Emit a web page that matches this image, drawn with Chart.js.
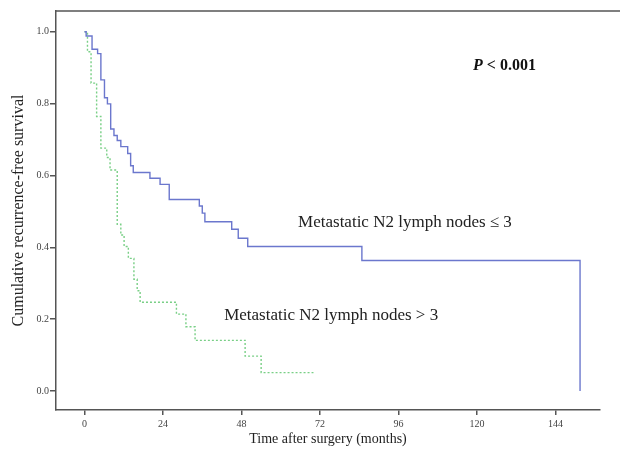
<!DOCTYPE html>
<html>
<head>
<meta charset="utf-8">
<script src="https://cdn.jsdelivr.net/npm/chart.js@4/dist/chart.umd.min.js"></script>
<style>
  body { margin: 0; background: #fff; }
  #wrap { width: 620px; height: 457px; }
</style>
</head>
<body>
<div id="wrap"><canvas id="kmChart" width="620" height="457"></canvas></div>
<script>
// Kaplan-Meier steps (months, survival after the drop)
var lowMonths   = [0, 0.5, 2.3, 4.0, 5.0, 6.1, 7.0, 8.0, 9.0, 10.0, 11.1, 13.2, 14.1, 14.9, 20.0, 23.1, 25.9, 35.1, 36.0, 36.8, 45.0, 47.0, 49.9, 84.8, 151.5];
var lowSurvival = [1, 0.988, 0.951, 0.939, 0.866, 0.816, 0.799, 0.729, 0.711, 0.697, 0.680, 0.661, 0.627, 0.608, 0.592, 0.575, 0.533, 0.515, 0.495, 0.471, 0.450, 0.425, 0.402, 0.363, 0.0];

var highMonths   = [0, 0.9, 2.0, 3.7, 5.0, 6.8, 7.8, 10.0, 11.1, 12.1, 13.4, 15.1, 16.1, 17.0, 28.1, 31.0, 33.8, 49.1, 54.0, 70.0];
var highSurvival = [1, 0.944, 0.857, 0.764, 0.676, 0.650, 0.615, 0.464, 0.434, 0.402, 0.369, 0.311, 0.279, 0.247, 0.214, 0.179, 0.141, 0.097, 0.051, 0.051];

var xTicks = [0, 24, 48, 72, 96, 120, 144];
var yTicks = [0, 0.2, 0.4, 0.6, 0.8, 1.0];

var lowLabel = "Metastatic N2 lymph nodes \u2264 3";
var highLabel = "Metastatic N2 lymph nodes > 3";

function toPoints(xs, ys){
  var pts = [];
  for (var i = 0; i < xs.length; i++) {
    pts.push({x: xs[i], y: ys[i]});
  }
  return pts;
}

var serif = "'Liberation Serif', 'DejaVu Serif', serif";
var axisGray = "#555";

// draws the top frame line and the text labels inside the plot
var extras = {
  id: 'extras',
  afterDraw: function(chart){
    var ctx = chart.ctx;
    var area = chart.chartArea;
    var xs = chart.scales.x, ys = chart.scales.y;
    ctx.save();
    ctx.strokeStyle = axisGray;
    ctx.lineWidth = 1.5;
    ctx.beginPath();
    ctx.moveTo(area.left, area.top);
    ctx.lineTo(chart.width, area.top);
    ctx.stroke();

    ctx.fillStyle = "#222";
    ctx.textBaseline = "middle";
    ctx.textAlign = "left";
    ctx.font = "17px " + serif;
    ctx.fillText(lowLabel, xs.getPixelForValue(65.3), ys.getPixelForValue(0.47));
    ctx.fillText(highLabel, xs.getPixelForValue(42.7), ys.getPixelForValue(0.209));

    var px = xs.getPixelForValue(118.8), py = ys.getPixelForValue(0.905);
    ctx.fillStyle = "#111";
    ctx.font = "italic bold 16px " + serif;
    ctx.fillText("P", px, py);
    var w = ctx.measureText("P").width;
    ctx.font = "bold 16px " + serif;
    ctx.fillText(" < 0.001", px + w, py);
    ctx.restore();
  }
};

var chart = new Chart(document.getElementById("kmChart"), {
  type: 'line',
  data: {
    datasets: [
      {
        label: lowLabel,
        data: toPoints(lowMonths, lowSurvival),
        borderColor: "#6b77cd",
        borderWidth: 1.4,
        pointRadius: 0,
        stepped: 'before',
        fill: false
      },
      {
        label: highLabel,
        data: toPoints(highMonths, highSurvival),
        borderColor: "#79cf86",
        borderWidth: 1.4,
        borderDash: [2, 2],
        pointRadius: 0,
        stepped: 'before',
        fill: false
      }
    ]
  },
  options: {
    responsive: false,
    animation: false,
    devicePixelRatio: 1,
    layout: { padding: { top: 11, right: 20, left: 0, bottom: 0 } },
    plugins: {
      legend: { display: false },
      tooltip: { enabled: false }
    },
    scales: {
      x: {
        type: 'linear',
        min: -8.72,
        max: 157.6,
        afterFit: function(scale){ scale.height = 47; },
        afterBuildTicks: function(scale){
          scale.ticks = xTicks.map(function(v){ return {value: v}; });
        },
        ticks: {
          color: "#444",
          font: { family: serif, size: 10 },
          padding: 3,
          maxRotation: 0,
          callback: function(v){ return v; }
        },
        grid: { drawOnChartArea: false, drawTicks: true, tickLength: 5, color: axisGray, lineWidth: 1.5 },
        border: { display: true, color: axisGray, width: 1.5 },
        title: {
          display: true,
          text: "Time after surgery (months)",
          color: "#222",
          font: { family: serif, size: 14 },
          padding: { top: 0, bottom: 9 }
        }
      },
      y: {
        type: 'linear',
        min: -0.0529,
        max: 1.0576,
        afterFit: function(scale){ scale.width = 56; },
        afterBuildTicks: function(scale){
          scale.ticks = yTicks.map(function(v){ return {value: v}; });
        },
        ticks: {
          color: "#444",
          font: { family: serif, size: 10 },
          padding: 1,
          callback: function(v){ return Number(v).toFixed(1); }
        },
        grid: { drawOnChartArea: false, drawTicks: true, tickLength: 6, color: axisGray, lineWidth: 1.5 },
        border: { display: true, color: axisGray, width: 1.5 },
        title: {
          display: true,
          text: "Cumulative recurrence-free survival",
          color: "#222",
          font: { family: serif, size: 16 },
          padding: { top: 9, bottom: 0 }
        }
      }
    }
  },
  plugins: [extras]
});
</script>
</body>
</html>
